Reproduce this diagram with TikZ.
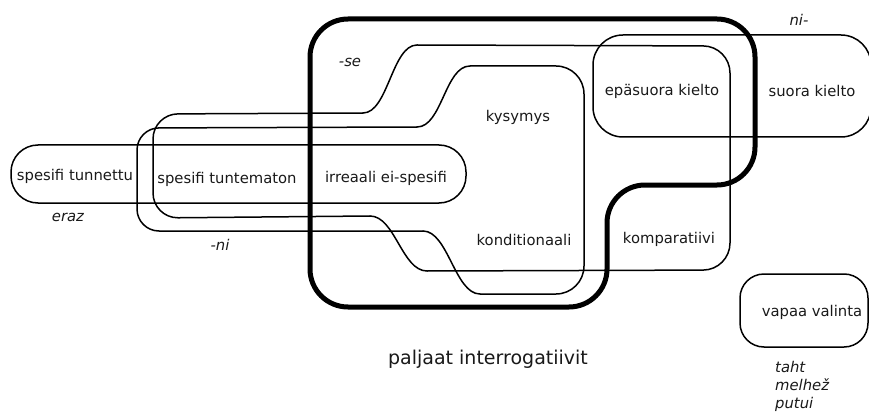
\documentclass[tikz,border=0pt]{standalone}
\usepackage{fontspec}
\setmainfont{DejaVu Sans}
\begin{document}
\tikzset{
  thinline/.style={line width=1.5pt, line join=round, line cap=round},
  thickline/.style={line width=5pt, line join=round},
  lbl/.style={font=\fontsize{14.8}{18}\selectfont, inner sep=0pt, text=black!90},
  ilbl/.style={font=\fontsize{14.8}{18}\selectfont\itshape, inner sep=0pt, text=black!90},
}
\begin{tikzpicture}[x=1pt,y=-1pt]
\useasboundingbox (0,0) rectangle (869,414);
% long pill: spesifi tunnettu ... irreaali ei-spesifi
\draw[thinline, rounded corners=27pt] (11,145) rectangle (466,203);
% shape -se
\draw[thinline, rounded corners=25pt] (363,113) -- (153,114) -- (153,218) -- (370,216);
\draw[thinline] (370,216) .. controls (395,216) and (402,271) .. (427,271);
\draw[thinline, rounded corners=27pt] (427,271) -- (730,270) -- (730,46) -- (417,45);
\draw[thinline] (417,45) .. controls (392,45) and (388,113) .. (363,113);
% shape -ni
\draw[thinline, rounded corners=22pt] (417,127) -- (137,128) -- (137,231) -- (423,231);
\draw[thinline] (423,231) .. controls (448,231) and (455,294) .. (480,294);
\draw[thinline, rounded corners=28pt] (480,294) -- (584,294) -- (584,66) -- (470,66);
\draw[thinline] (470,66) .. controls (445,66) and (442,127) .. (417,127);
% thick: paljaat interrogatiivit
\draw[thickline, rounded corners=38pt] (450,19) -- (755,19) -- (755,185) -- (607,185)
  -- (607,307) -- (310,307) -- (310,19) -- cycle;
% ni- shape
\draw[thinline, rounded corners=30pt] (593,35) rectangle (871,137);
% vapaa valinta
\draw[thinline, rounded corners=24pt] (740,274) rectangle (868,347);

% labels
\node[lbl] (tunnettu) at (75,176) {spesifi tunnettu};
\node[lbl] (tuntematon) at (227,179) {spesifi tuntematon};
\node[lbl] (irreaali) at (386,178) {irreaali ei-spesifi};
\node[lbl] (kysymys) at (518,117) {kysymys};
\node[lbl] (kond) at (524,240) {konditionaali};
\node[lbl] (epasuora) at (662,91) {epäsuora kielto};
\node[lbl] (suora) at (812,91) {suora kielto};
\node[lbl] (kompar) at (669,239) {komparatiivi};
\node[lbl] (vapaa) at (812,312) {vapaa valinta};
\node[lbl, font=\fontsize{19}{22}\selectfont] (paljaat) at (488,359) {paljaat interrogatiivit};
\node[ilbl] (se) at (350,62) {-se};
\node[ilbl] (ni) at (220,245) {-ni};
\node[ilbl] (eraz) at (68,217) {eraz};
\node[ilbl] (nipre) at (799,20) {ni-};
\node[ilbl, align=left, anchor=north west] (taht) at (775,361) {taht\\melhež\\putui};
\end{tikzpicture}
\end{document}
